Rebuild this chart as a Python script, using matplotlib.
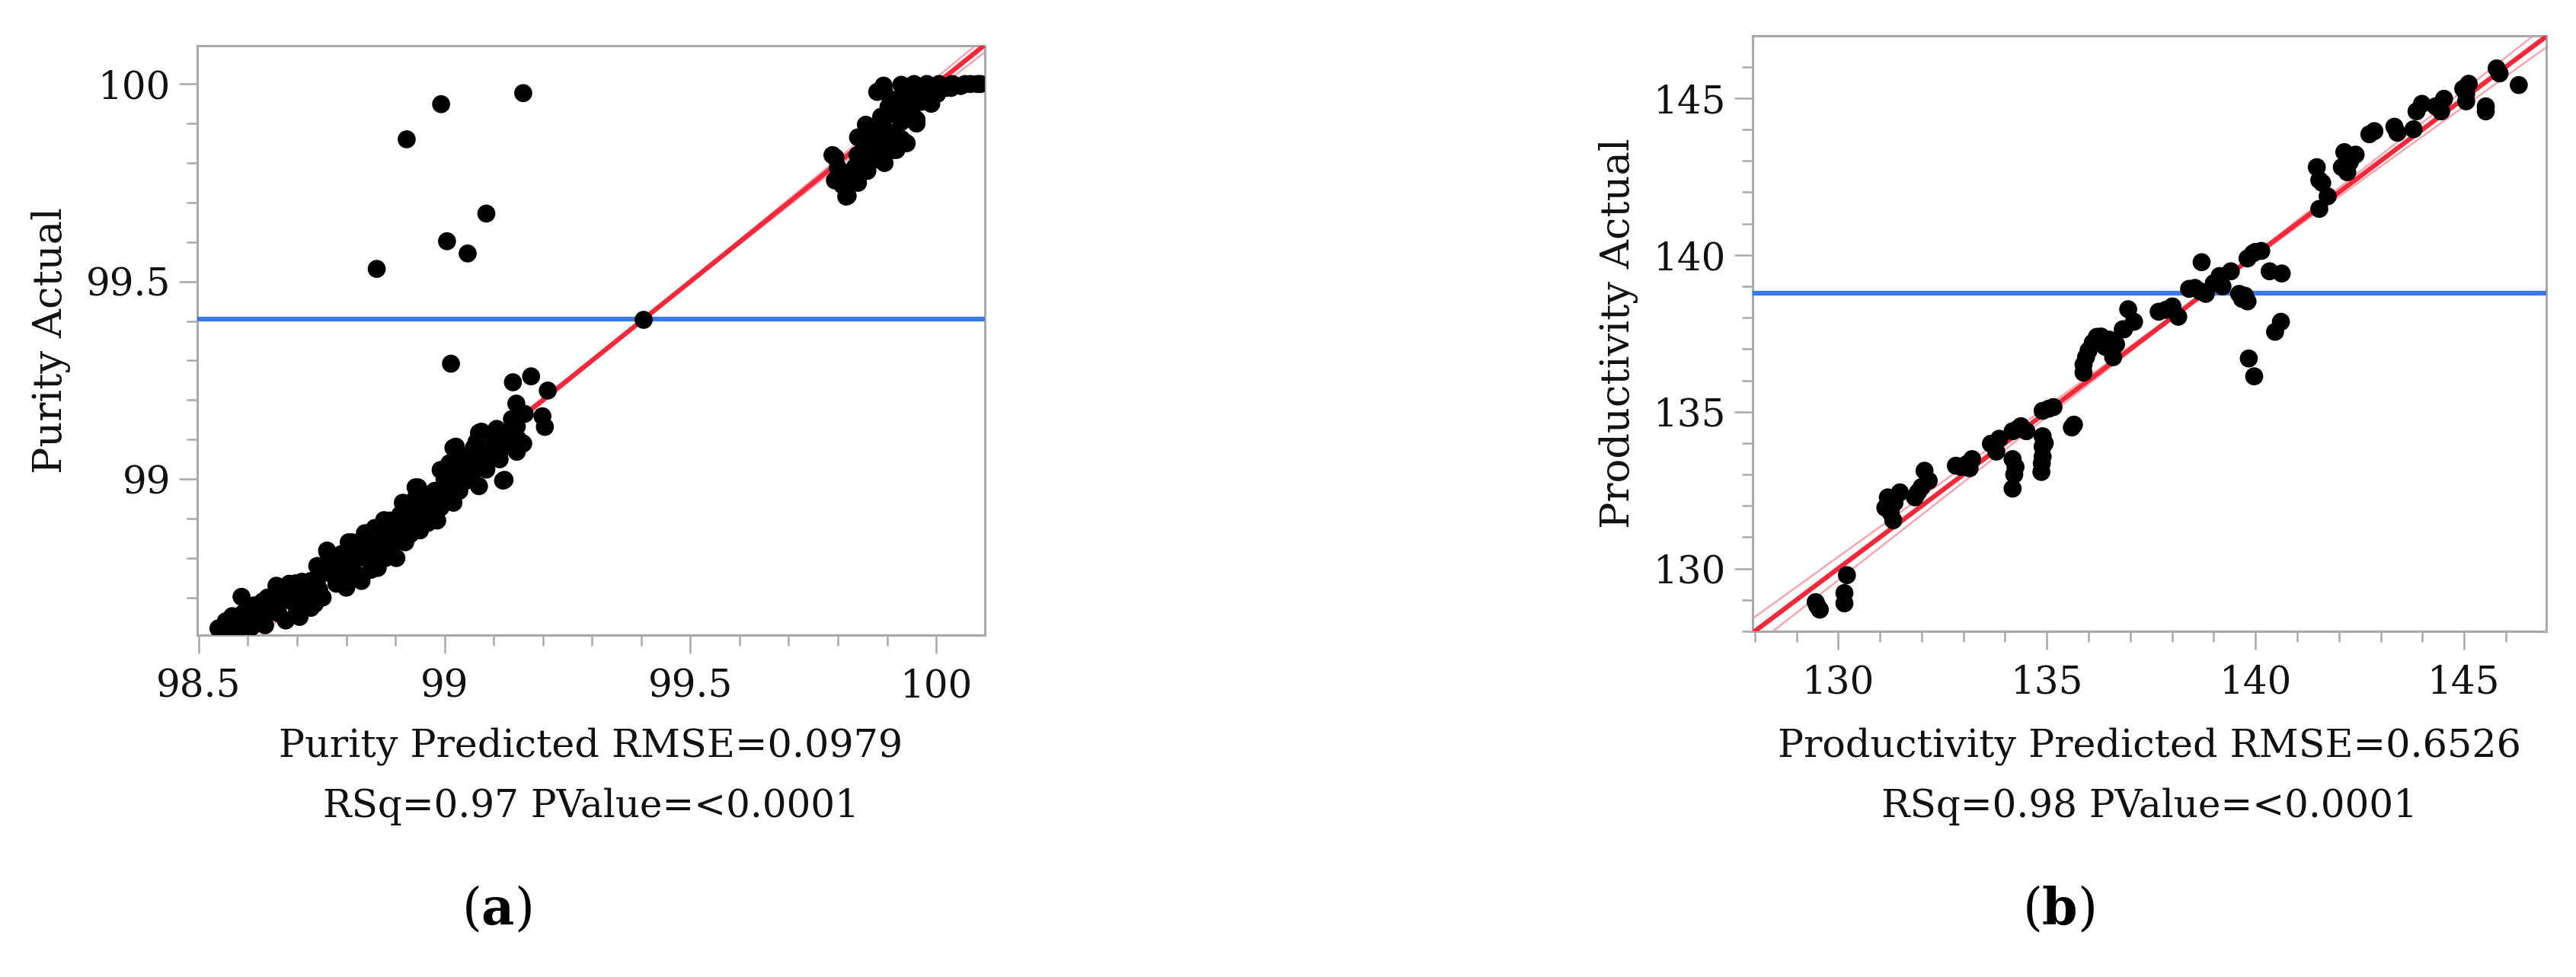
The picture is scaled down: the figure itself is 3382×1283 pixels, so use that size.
import numpy as np
import matplotlib

matplotlib.use("Agg")
from matplotlib import pyplot as plt
from matplotlib.ticker import FixedLocator, MultipleLocator, FormatStrFormatter

# ---- panel (a): purity -------------------------------------------------
purity_predicted = [
    98.540, 98.555, 98.568, 98.575, 98.587, 98.590, 98.600, 98.607, 98.612, 98.620,
    98.628, 98.635, 98.640, 98.645, 98.650, 98.658, 98.662, 98.670, 98.677, 98.684,
    98.690, 98.697, 98.700, 98.705, 98.712, 98.720, 98.728, 98.728, 98.736, 98.741,
    98.745, 98.748, 98.752, 98.761, 98.762, 98.770, 98.775, 98.780, 98.790, 98.795,
    98.800, 98.805, 98.812, 98.815, 98.820, 98.825, 98.831, 98.838, 98.840, 98.845,
    98.850, 98.855, 98.858, 98.864, 98.865, 98.870, 98.877, 98.880, 98.885, 98.889,
    98.893, 98.900, 98.902, 98.905, 98.910, 98.915, 98.915, 98.920, 98.925, 98.930,
    98.935, 98.941, 98.946, 98.945, 98.950, 98.955, 98.960, 98.966, 98.970, 98.975,
    98.980, 98.985, 98.992, 98.992, 98.997, 98.995, 99.005, 99.013, 99.018, 99.018,
    99.023, 99.025, 99.030, 99.035, 99.044, 99.044, 99.050, 99.054, 99.060, 99.065,
    99.070, 99.070, 99.075, 99.083, 99.085, 99.090, 99.095, 99.100, 99.106, 99.108,
    99.112, 99.119, 99.122, 99.125, 99.134, 99.137, 99.139, 99.146, 99.147, 99.147,
    99.150, 99.160, 99.163, 99.176, 99.199, 99.204, 99.210,
    98.560, 98.580, 98.600, 98.630, 98.660, 98.680, 98.710, 98.740, 98.760, 98.780,
    98.790, 98.810, 98.830, 98.860, 98.870, 98.890, 98.910, 98.930, 98.940, 98.960,
    98.980, 99.000, 99.010, 99.030, 99.040, 99.060, 99.080, 99.100, 99.120, 99.130,
    99.140,
    # outliers
    98.862, 98.923, 98.993, 99.160, 99.005, 99.047, 99.085, 99.013, 99.405,
    # upper cluster
    99.789, 99.795, 99.800, 99.794, 99.810, 99.820, 99.817, 99.841, 99.830, 99.850,
    99.874, 99.877, 99.866, 99.914, 99.913, 99.841, 99.857, 99.888, 99.929, 99.950,
    99.903, 99.970, 99.894, 99.940, 100.002, 99.880, 99.893, 99.929, 99.955, 99.981,
    100.006, 100.033, 100.059, 100.084, 99.920, 99.940, 99.960, 99.985, 100.020, 100.050,
    99.870, 99.900, 99.850, 99.835, 99.880, 99.910, 99.930, 99.960, 99.919, 99.893,
    99.930, 99.960, 99.990, 100.070, 100.090,
    99.820, 99.840, 99.860, 99.880, 99.900, 99.920, 99.940, 99.970, 100.000, 100.030,
    99.860, 99.895, 99.910,
]
purity_actual = [
    98.622, 98.640, 98.653, 98.630, 98.702, 98.660, 98.640, 98.625, 98.680, 98.675,
    98.650, 98.630, 98.700, 98.668, 98.690, 98.730, 98.660, 98.705, 98.642, 98.735,
    98.690, 98.736, 98.668, 98.651, 98.715, 98.690, 98.742, 98.674, 98.684, 98.780,
    98.720, 98.775, 98.700, 98.819, 98.815, 98.760, 98.790, 98.735, 98.810, 98.770,
    98.725, 98.840, 98.840, 98.790, 98.760, 98.815, 98.742, 98.863, 98.800, 98.830,
    98.770, 98.860, 98.876, 98.775, 98.810, 98.840, 98.896, 98.800, 98.860, 98.895,
    98.830, 98.875, 98.800, 98.850, 98.910, 98.876, 98.940, 98.840, 98.895, 98.860,
    98.920, 98.979, 98.979, 98.900, 98.870, 98.935, 98.905, 98.889, 98.950, 98.920,
    98.940, 98.895, 99.023, 98.928, 99.024, 98.960, 98.985, 98.953, 99.079, 98.940,
    99.082, 99.010, 98.970, 99.040, 99.005, 98.996, 99.060, 99.056, 99.020, 99.094,
    98.982, 99.117, 99.120, 99.040, 99.024, 99.070, 99.069, 99.090, 99.127, 99.106,
    99.050, 98.996, 98.998, 99.100, 99.084, 99.152, 99.245, 99.191, 99.069, 99.133,
    99.100, 99.090, 99.165, 99.260, 99.159, 99.132, 99.224,
    98.610, 98.615, 98.670, 98.690, 98.680, 98.720, 98.740, 98.740, 98.770, 98.780,
    98.750, 98.810, 98.840, 98.840, 98.870, 98.860, 98.890, 98.910, 98.950, 98.960,
    98.970, 99.000, 99.040, 99.050, 99.030, 99.080, 99.070, 99.110, 99.080, 99.120,
    99.100,
    # outliers
    99.532, 99.860, 99.949, 99.977, 99.602, 99.571, 99.672, 99.292, 99.403,
    # upper cluster
    99.820, 99.814, 99.788, 99.756, 99.743, 99.717, 99.715, 99.750, 99.780, 99.800,
    99.808, 99.814, 99.840, 99.833, 99.836, 99.865, 99.897, 99.917, 99.904, 99.929,
    99.942, 99.955, 99.981, 99.974, 99.975, 99.980, 99.996, 99.998, 100.000, 100.000,
    100.000, 100.000, 100.000, 100.000, 99.870, 99.850, 99.900, 99.985, 99.990, 99.995,
    99.860, 99.880, 99.830, 99.790, 99.850, 99.960, 99.940, 99.970, 99.833, 99.814,
    99.860, 99.910, 99.950, 100.000, 100.000,
    99.760, 99.820, 99.870, 99.890, 99.920, 99.930, 99.960, 99.980, 99.990, 99.990,
    99.780, 99.800, 99.850,
]
purity_mean = 99.405
purity_band = (0.002, 0.026)  # min half-width, spread per unit

# ---- panel (b): productivity ------------------------------------------
prod_predicted = [
    129.46, 129.56, 129.50, 130.21, 130.15, 130.15,
    131.26, 131.19, 131.32, 131.48, 131.13, 131.35,
    131.91, 132.07, 132.17, 131.84, 132.00,
    132.95, 133.21, 133.08, 132.82, 133.15,
    133.66, 133.86, 133.79, 133.75,
    134.18, 134.38, 134.51, 134.30,
    134.18, 134.25, 134.18, 134.22,
    134.90, 134.90, 134.90, 134.87, 134.88, 134.95,
    134.90, 135.16, 135.05,
    135.65, 135.60,
    135.88, 135.88, 135.94, 136.20, 136.59, 136.66, 136.85, 136.40, 136.00, 136.10, 136.50, 136.30,
    136.95, 137.09, 136.82, 137.68, 138.01, 138.15, 137.85, 138.41, 138.68, 138.81,
    138.71, 139.14, 139.41, 139.21, 139.00, 138.55, 139.94, 139.81, 140.14, 140.00,
    140.34, 140.63, 139.61, 139.81, 139.68, 139.75, 140.61, 140.47, 139.84, 139.97,
    141.53, 141.73, 141.53, 141.47, 141.60, 142.13, 142.26, 142.20, 142.30, 142.07,
    142.40, 142.73, 142.85, 143.33, 143.40, 143.79, 143.86, 143.99, 144.32, 144.52,
    144.45, 144.98, 145.05, 145.11, 145.05, 145.52, 145.52, 145.78, 145.85, 146.31,
]
prod_actual = [
    128.93, 128.69, 128.81, 129.79, 129.22, 128.89,
    131.78, 132.27, 131.54, 132.43, 131.94, 132.10,
    132.43, 133.12, 132.80, 132.27, 132.60,
    133.24, 133.49, 133.33, 133.28, 133.20,
    133.98, 134.14, 133.73, 133.90,
    134.38, 134.54, 134.38, 134.45,
    133.49, 133.24, 132.55, 133.00,
    134.22, 133.89, 133.57, 133.08, 133.35, 134.00,
    135.03, 135.15, 135.10,
    134.59, 134.50,
    136.50, 136.25, 136.74, 137.39, 136.74, 137.15, 137.63, 137.07, 136.95, 137.20, 137.30, 137.40,
    138.27, 137.87, 137.63, 138.19, 138.36, 138.03, 138.25, 138.92, 138.84, 138.76,
    139.77, 139.33, 139.48, 139.00, 139.10, 138.95, 140.05, 139.89, 140.13, 140.10,
    139.48, 139.41, 138.76, 138.52, 138.60, 138.70, 137.87, 137.55, 136.70, 136.13,
    141.47, 141.87, 142.39, 142.80, 142.30, 143.28, 142.96, 142.64, 143.10, 142.80,
    143.20, 143.85, 143.95, 144.09, 143.90, 144.01, 144.58, 144.82, 144.74, 144.98,
    144.58, 145.30, 145.14, 145.46, 144.90, 144.58, 144.74, 145.95, 145.79, 145.42,
]
prod_mean = 138.78
prod_band = (0.03, 0.042)

panels = [
    dict(x=purity_predicted, y=purity_actual, mean=purity_mean, band=purity_band,
         xlim=(98.497, 100.099), ylim=(98.605, 100.097),
         xmajor=[98.5, 99, 99.5, 100], ymajor=[99, 99.5, 100], minor=0.1,
         ylabel="Purity Actual",
         xlabel=["Purity Predicted RMSE=0.0979", "RSq=0.97 PValue=<0.0001"],
         caption="a", rect=(259, 60, 1293, 834), caption_x=652),
    dict(x=prod_predicted, y=prod_actual, mean=prod_mean, band=prod_band,
         xlim=(127.95, 146.97), ylim=(128.0, 146.99),
         xmajor=[130, 135, 140, 145], ymajor=[130, 135, 140, 145], minor=1,
         ylabel="Productivity Actual",
         xlabel=["Productivity Predicted RMSE=0.6526", "RSq=0.98 PValue=<0.0001"],
         caption="b", rect=(2301, 47, 3343, 829), caption_x=2703),
]

W, H = 3382, 1283
plt.rcParams["font.family"] = ["DejaVu Serif"]
plt.rcParams["mathtext.fontset"] = "dejavuserif"
fig = plt.figure(figsize=(W / 100, H / 100), dpi=100)

FRAME = "#a9a9a9"
RED = "#f5283a"
PINK = "#f7a5ae"
BLUE = "#3b78ea"

for p in panels:
    x0, y0, x1, y1 = p["rect"]
    ax = fig.add_axes([x0 / W, 1 - y1 / H, (x1 - x0) / W, (y1 - y0) / H])
    ax.set_xlim(*p["xlim"])
    ax.set_ylim(*p["ylim"])

    xs = np.linspace(p["xlim"][0], p["xlim"][1], 200)
    c0, c1 = p["band"]
    half = np.sqrt(c0 ** 2 + (c1 * (xs - p["mean"])) ** 2)
    ax.plot(xs, xs + half, color=PINK, lw=1.8, zorder=2)
    ax.plot(xs, xs - half, color=PINK, lw=1.8, zorder=2)
    ax.plot(xs, xs, color=RED, lw=4.5, zorder=3)
    ax.axhline(p["mean"], color=BLUE, lw=4.5, zorder=3)
    ax.scatter(p["x"], p["y"], s=290, color="black", edgecolors="none", zorder=4)

    ax.xaxis.set_major_locator(FixedLocator(p["xmajor"]))
    ax.yaxis.set_major_locator(FixedLocator(p["ymajor"]))
    ax.xaxis.set_minor_locator(MultipleLocator(p["minor"]))
    ax.yaxis.set_minor_locator(MultipleLocator(p["minor"]))
    fmt = FormatStrFormatter("%g")
    ax.xaxis.set_major_formatter(fmt)
    ax.yaxis.set_major_formatter(fmt)
    ax.tick_params(which="major", length=17, width=1.8, color=FRAME, labelsize=36,
                   labelcolor="#111111")
    ax.tick_params(which="minor", length=10, width=1.8, color=FRAME)
    ax.tick_params(axis="x", which="major", pad=14)
    ax.tick_params(axis="y", which="major", pad=8)
    for spine in ax.spines.values():
        spine.set_color(FRAME)
        spine.set_linewidth(2.2)

    ax.set_ylabel(p["ylabel"], fontsize=38, labelpad=14, color="#111111")

    cx = (x0 + x1) / 2 / W
    fig.text(cx, 1 - 980 / H, p["xlabel"][0], ha="center", va="center", fontsize=36.5, color="#111111")
    fig.text(cx, 1 - 1059 / H, p["xlabel"][1], ha="center", va="center", fontsize=36, color="#111111")
    fig.text(p["caption_x"] / W, 1 - 1195 / H, "($\\mathbf{%s}$)" % p["caption"],
             ha="center", va="center", fontsize=48)

fig.savefig("out.png", dpi=100)
